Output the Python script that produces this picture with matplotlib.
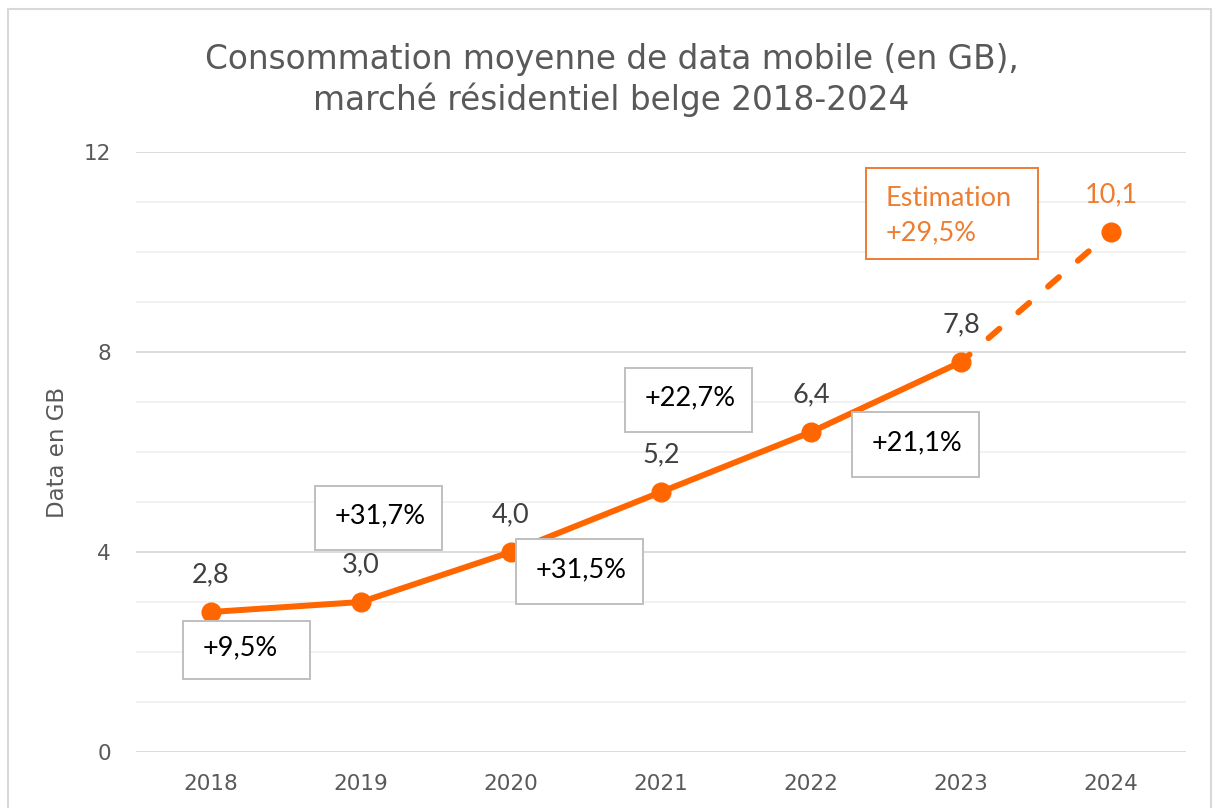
import matplotlib.pyplot as plt
from matplotlib.patches import Rectangle

# data
years = ['2018', '2019', '2020', '2021', '2022', '2023', '2024']
values = [2.8, 3.0, 4.0, 5.2, 6.4, 7.8, 10.4]
value_labels = ['2,8', '3,0', '4,0', '5,2', '6,4', '7,8', '10,1']
growth_labels = ['+9,5%', '+31,7%', '+31,5%', '+22,7%', '+21,1%']
estimate_label = 'Estimation\n+29,5%'

# box placement (data coords: left, bottom, height)
growth_boxes = [(-0.187, 1.46, 1.16), (0.693, 4.04, 1.28), (2.033, 2.96, 1.30),
                (2.76, 6.40, 1.28), (4.273, 5.50, 1.30)]
box_w = 0.847

line_col = '#FF6600'
est_col = '#ED7D31'
grey_txt = '#595959'
label_font = ['Lato', 'DejaVu Sans']

fig = plt.figure(figsize=(12.16, 8.08), dpi=100)
ax = fig.add_axes([136 / 1216, 56 / 808, 1050 / 1216, 600 / 808])

x = list(range(len(years)))

# outer chart frame
fig.patches.append(Rectangle((8 / 1216, -0.05), 1203 / 1216, 1.05 - 9 / 808,
                             transform=fig.transFigure, fill=False,
                             edgecolor='#D9D9D9', linewidth=1.5))

# grid
for v in range(0, 13):
    major = v % 4 == 0
    ax.axhline(v, color='#D9D9D9' if major else '#F0F0F0',
               linewidth=1.3, zorder=0)

# line: solid for actuals, dashed for estimate
ax.plot(x[:6], values[:6], color=line_col, linewidth=4.3, solid_capstyle='round',
        zorder=3)
ax.plot(x[5:], values[5:], color=line_col, linewidth=4.3,
        linestyle=(0.5, (2.4, 4.2)), dash_capstyle='round', zorder=3)
ax.plot(x, values, 'o', color=line_col, markersize=13.5, zorder=4)

# value labels
for i, (v, lab) in enumerate(zip(values, value_labels)):
    col = est_col if i == len(values) - 1 else '#404040'
    ax.annotate(lab, (i, v), xytext=(0, 27), textcoords='offset points',
                ha='center', va='center', fontsize=19.5, color=col,
                family=label_font)

# growth boxes
for (bx, by, bh), lab in zip(growth_boxes, growth_labels):
    ax.add_patch(Rectangle((bx, by), box_w, bh, facecolor='white',
                           edgecolor='#BFBFBF', linewidth=1.4, zorder=5))
    ax.text(bx + 0.133, by + bh / 2 + 0.04, lab, ha='left', va='center',
            fontsize=19.5, color='black', family=label_font, zorder=6)

# estimate box
ax.add_patch(Rectangle((4.367, 9.86), 1.147, 1.82, facecolor='white',
                       edgecolor=est_col, linewidth=1.4, zorder=5))
ax.text(4.367 + 0.133, 9.86 + 0.87, estimate_label, ha='left', va='center',
        fontsize=19.5, color=est_col, family=label_font, linespacing=1.5,
        zorder=6)

ax.set_xlim(-0.5, 6.5)
ax.set_ylim(0, 12)
ax.set_xticks(x)
ax.set_xticklabels(years)
ax.set_yticks([0, 4, 8, 12])
ax.tick_params(length=0, labelsize=15.5, labelcolor=grey_txt)
ax.tick_params(axis='x', pad=16)
ax.tick_params(axis='y', pad=18)
for s in ax.spines.values():
    s.set_visible(False)
ax.set_ylabel('Data en GB', fontsize=16.5, color=grey_txt)
ax.yaxis.set_label_coords(-0.0638, 0.5)

fig.text(0.503, 1 - 60 / 808, 'Consommation moyenne de data mobile (en GB),',
         ha='center', va='center', fontsize=23.6, color=grey_txt)
fig.text(0.503, 1 - 100 / 808, 'marché résidentiel belge 2018-2024',
         ha='center', va='center', fontsize=23.6, color=grey_txt)

plt.savefig('out.png', dpi=100)
